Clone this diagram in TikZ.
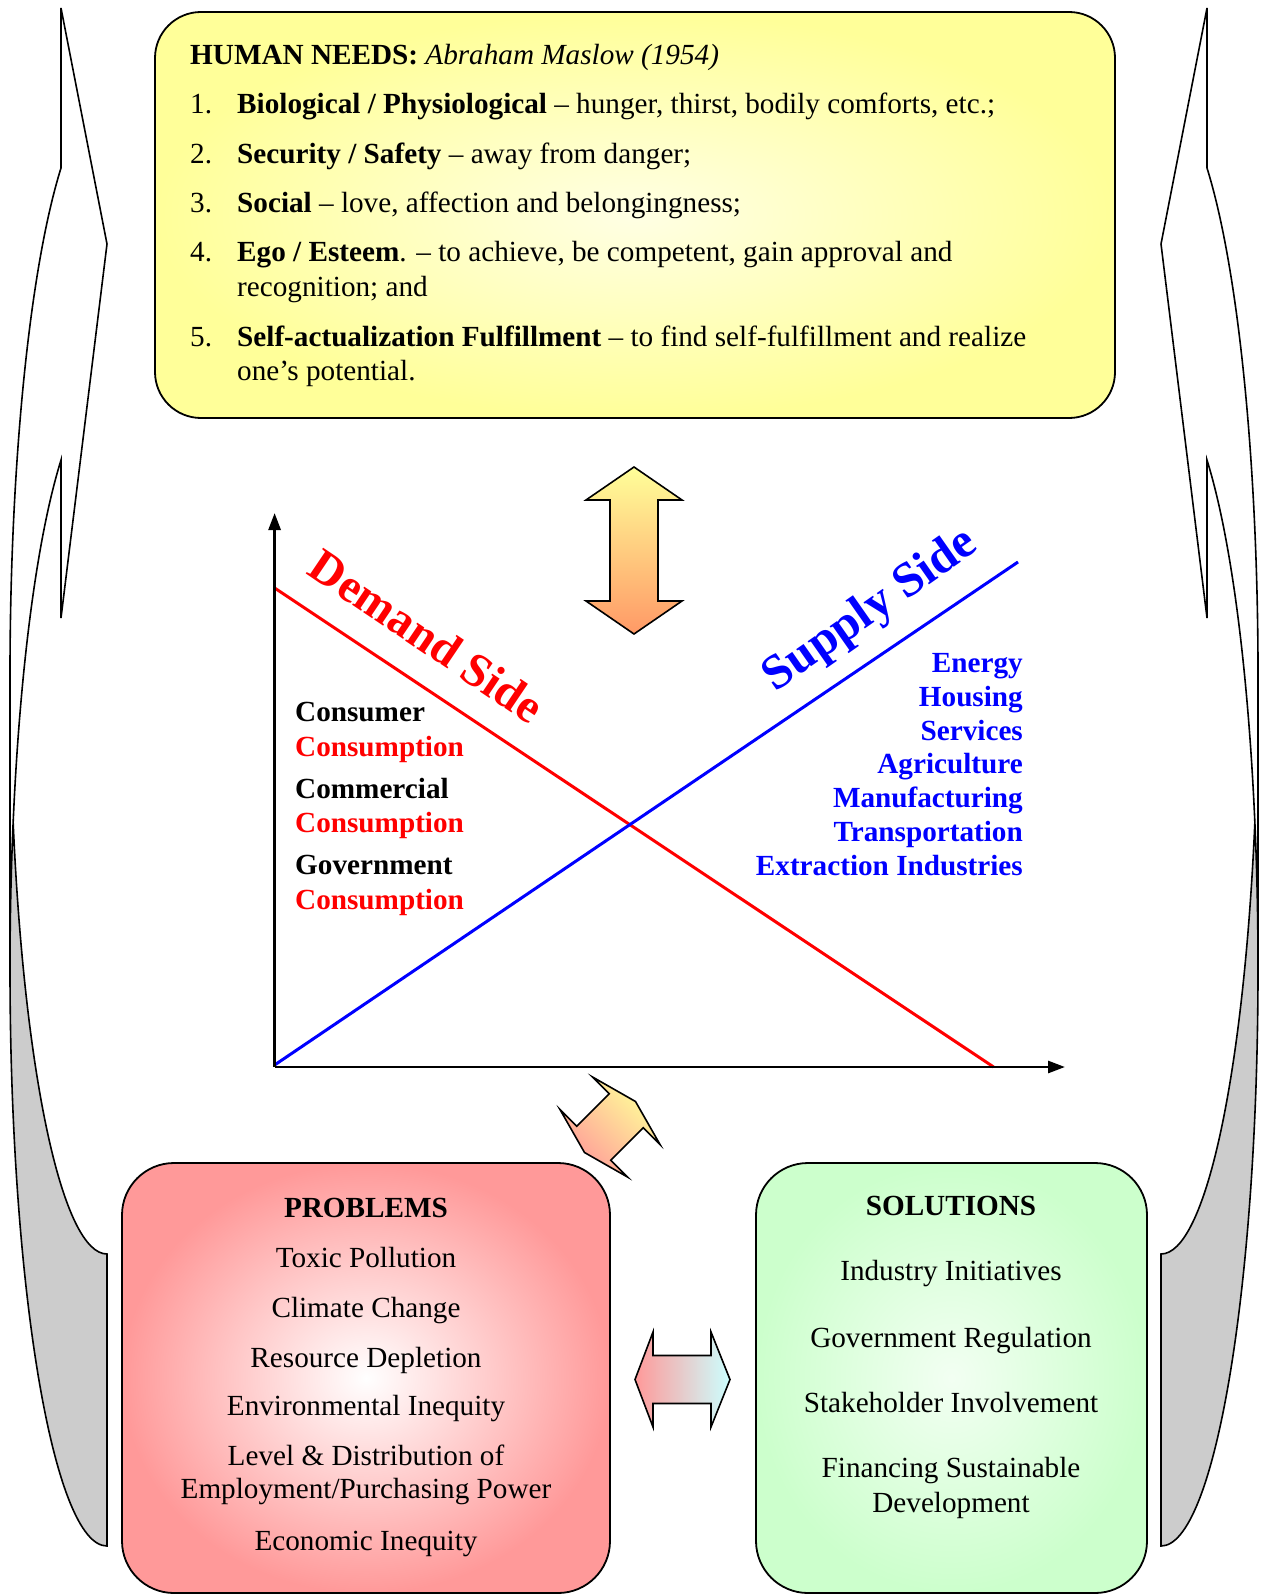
\documentclass[tikz,border=0pt]{standalone}
\usepackage{fontspec}
\setmainfont{Liberation Serif}
\usetikzlibrary{arrows.meta}

\definecolor{needsyellow}{RGB}{255,255,153}
\definecolor{needslight}{RGB}{255,255,228}
\definecolor{probpink}{RGB}{255,153,153}
\definecolor{solgreen}{RGB}{204,255,204}
\definecolor{backgray}{RGB}{204,204,204}
\definecolor{arroworange}{RGB}{255,153,102}
\definecolor{arrowcyan}{RGB}{204,255,255}

\begin{document}
\begin{tikzpicture}[x=1pt, y=-1pt,
    panel/.style={draw=black, line width=1.8pt},
    fatarrow/.style={draw=black, line width=1.6pt, line join=miter},
    axis/.style={line width=2.8pt, -{Triangle[length=17pt,width=12pt]}},
    item/.style={inner sep=0pt, anchor=west, text height=27.5pt, text depth=6.4pt, font=\fontsize{29.2}{34}\selectfont},
    bolditem/.style={item, font=\fontsize{29.2}{34}\selectfont\bfseries},
    midtext/.style={item, anchor=center},
    sidetitle/.style={inner sep=0pt, font=\fontsize{47.5}{50}\selectfont\bfseries}]
  \useasboundingbox (0,0) rectangle (1260,1594);

  % curved arrows down both sides
  \foreach \s/\o in {1/0,-1/1268} {
    \begin{scope}[shift={(\o,0)}, xscale=\s]
      \fill[backgray] (107,1254) arc[start angle=90, end angle=165.36, x radius=97, y radius=577.5]
        arc[start angle=194.64, end angle=90, x radius=97, y radius=577.5] -- cycle;
      \draw[line width=1.6pt, line join=miter] (10,968.5)
        arc[start angle=180, end angle=241.7, x radius=97, y radius=577.5]
        -- (61,618) -- (107,244) -- (61,8) -- (61,168)
        arc[start angle=241.7, end angle=180, x radius=97, y radius=577.5]
        -- (10,968.5)
        arc[start angle=180, end angle=90, x radius=97, y radius=577.5]
        -- (107,1254)
        arc[start angle=90, end angle=165.36, x radius=97, y radius=577.5];
    \end{scope}
  }

  \node[panel, rounded corners=46pt, inner color=needslight, outer color=needsyellow,
        minimum width=960pt, minimum height=406pt] (needs) at (635,215) {};
  \node[panel, rounded corners=52pt, inner color=white, outer color=probpink,
        minimum width=488pt, minimum height=430pt] (problems) at (366,1378) {};
  \node[panel, rounded corners=52pt, inner color=white!75!solgreen, outer color=solgreen,
        minimum width=391pt, minimum height=430pt] (solutions) at (951.5,1378) {};

  \node[item] (needshead) at (190,54) {\textbf{HUMAN NEEDS:} \textit{Abraham Maslow (1954)}};
  \foreach \i/\y in {1/102.7,2/152.6,3/202.4,4/251.2,5/335.6}
    \node[item] (num\i) at (190,\y) {\i.};
  \node[item] (need1) at (237,102.7) {\textbf{Biological / Physiological} – hunger, thirst, bodily comforts, etc.;};
  \node[item] (need2) at (237,152.6) {\textbf{Security / Safety} – away from danger;};
  \node[item] (need3) at (237,202.4) {\textbf{Social} – love, affection and belongingness;};
  \node[item] (need4) at (237,251.2) {\textbf{Ego / Esteem}. – to achieve, be competent, gain approval and};
  \node[item] (need4b) at (237,285.8) {recognition; and};
  \node[item] (need5) at (237,335.6) {\textbf{Self-actualization Fulfillment} – to find self-fulfillment and realize};
  \node[item] (need5b) at (237,370.2) {one's potential.};

  % demand and supply chart
  \coordinate (origin) at (274.6,1067);
  \coordinate (ytop) at (274.6,513);
  \coordinate (xend) at (1065,1067);
  \coordinate (dtop) at (274.6,588);
  \coordinate (dbot) at (993.6,1067);
  \coordinate (sbot) at (274.6,1065);
  \coordinate (stop) at (1018,562);
  \draw[red, line width=3pt] (dtop) -- (dbot);
  \draw[blue, line width=3pt] (sbot) -- (stop);
  \draw[axis] (origin) -- (ytop);
  \draw[axis] (origin) -- (xend);

  \node[sidetitle, text=red, rotate=-34] (demand) at (427,636) {Demand Side};
  \node[sidetitle, font=\fontsize{49}{52}\selectfont\bfseries, text=blue, rotate=35] (supply) at (871,611) {Supply Side};

  \foreach \t [count=\i] in {Consumer,Commercial,Government} {
    \node[bolditem] (sector\i) at (295,{711+76.7*(\i-1)}) {\t};
    \node[bolditem, text=red] (use\i) at (295,{745.5+76.7*(\i-1)}) {Consumption};
  }
  \foreach \t [count=\i] in {Energy,Housing,Services,Agriculture,Manufacturing,Transportation,Extraction Industries}
    \node[bolditem, anchor=east, text=blue] (industry\i) at (1023,{662+33.8*(\i-1)}) {\t};

  % fat double arrows
  \draw[fatarrow, top color=needsyellow, bottom color=arroworange]
    (634,467) -- (682,500) -- (658,500) -- (658,601) -- (682,601) -- (634,634)
    -- (586,601) -- (610,601) -- (610,500) -- (586,500) -- cycle;
  \draw[fatarrow, top color=needsyellow, bottom color=probpink, shading angle=-45]
    (635.5,1101.5) -- (659.9,1144.3) -- (643.3,1127.7) -- (610.7,1160.3) -- (627.3,1176.9)
    -- (584.5,1152.5) -- (560.1,1109.7) -- (576.7,1126.3) -- (609.3,1093.7) -- (592.7,1077.1) -- cycle;
  \draw[fatarrow, left color=probpink, right color=arrowcyan]
    (635,1379.5) -- (653,1332) -- (653,1355.5) -- (711,1355.5) -- (711,1332) -- (730,1379.5)
    -- (711,1427) -- (711,1403.5) -- (653,1403.5) -- (653,1427) -- cycle;

  \node[midtext, font=\fontsize{29.2}{34}\selectfont\bfseries] (probhead) at (366,1206.7) {PROBLEMS};
  \foreach \t/\y [count=\i] in {Toxic Pollution/1256.7, Climate Change/1306.7, Resource Depletion/1356.7,
      Environmental Inequity/1405, Level \& Distribution of/1455, {Employment/Purchasing Power}/1488.3,
      Economic Inequity/1540}
    \node[midtext] (prob\i) at (366,\y) {\t};

  \node[midtext, font=\fontsize{29.2}{34}\selectfont\bfseries] (solhead) at (951,1205) {SOLUTIONS};
  \foreach \t/\y [count=\i] in {Industry Initiatives/1270, Government Regulation/1336.7,
      Stakeholder Involvement/1401.7, Financing Sustainable/1466.7, Development/1501.7}
    \node[midtext] (sol\i) at (951,\y) {\t};
\end{tikzpicture}
\end{document}
